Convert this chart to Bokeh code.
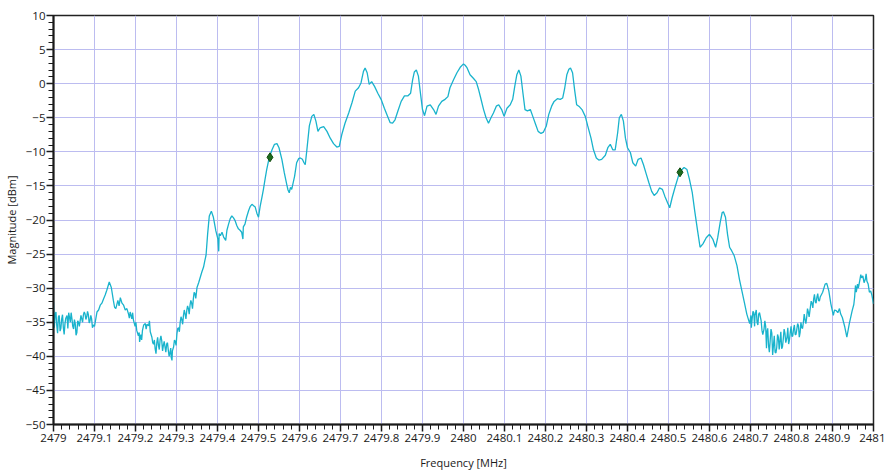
from bokeh.plotting import figure
from bokeh.models import FixedTicker, Range1d, ColumnDataSource
from bokeh.embed import file_html
from bokeh.resources import INLINE

# ---- data ----
freq = [
    2479.000, 2479.004, 2479.008, 2479.012, 2479.016, 2479.020, 2479.024, 2479.028, 2479.033, 2479.037,
    2479.041, 2479.045, 2479.049, 2479.053, 2479.057, 2479.061, 2479.065, 2479.069, 2479.073, 2479.077,
    2479.081, 2479.085, 2479.089, 2479.093, 2479.097, 2479.100, 2479.106, 2479.110, 2479.114, 2479.118,
    2479.122, 2479.126, 2479.130, 2479.136, 2479.141, 2479.146, 2479.149, 2479.152, 2479.157, 2479.163,
    2479.167, 2479.171, 2479.175, 2479.179, 2479.183, 2479.187, 2479.191, 2479.195, 2479.199, 2479.203,
    2479.207, 2479.210, 2479.213, 2479.217, 2479.220, 2479.224, 2479.228, 2479.232, 2479.236, 2479.240,
    2479.244, 2479.248, 2479.252, 2479.256, 2479.260, 2479.264, 2479.268, 2479.272, 2479.276, 2479.280,
    2479.284, 2479.287, 2479.290, 2479.293, 2479.297, 2479.301, 2479.305, 2479.309, 2479.313, 2479.317,
    2479.321, 2479.325, 2479.329, 2479.333, 2479.337, 2479.341, 2479.345, 2479.350, 2479.354, 2479.358,
    2479.362, 2479.366, 2479.369, 2479.372, 2479.376, 2479.380, 2479.385, 2479.390, 2479.396, 2479.401,
    2479.404, 2479.407, 2479.411, 2479.415, 2479.420, 2479.423, 2479.427, 2479.431, 2479.435, 2479.439,
    2479.443, 2479.447, 2479.451, 2479.455, 2479.459, 2479.463, 2479.467, 2479.471, 2479.476, 2479.480,
    2479.484, 2479.488, 2479.492, 2479.496, 2479.500,
    2479.504, 2479.508, 2479.512, 2479.516, 2479.520, 2479.526, 2479.533, 2479.539, 2479.545, 2479.550,
    2479.557, 2479.563, 2479.569, 2479.572, 2479.575, 2479.578, 2479.581, 2479.588, 2479.593, 2479.598,
    2479.602, 2479.607, 2479.611, 2479.614, 2479.618, 2479.624, 2479.630, 2479.635, 2479.640, 2479.645,
    2479.650, 2479.659, 2479.667, 2479.675, 2479.683, 2479.691, 2479.697, 2479.703, 2479.711, 2479.720,
    2479.728, 2479.736, 2479.744, 2479.750, 2479.756, 2479.760, 2479.765, 2479.770, 2479.776, 2479.783,
    2479.791, 2479.799, 2479.807, 2479.815, 2479.821, 2479.827, 2479.833, 2479.840, 2479.848, 2479.856,
    2479.864, 2479.871, 2479.876, 2479.880, 2479.885, 2479.890, 2479.895, 2479.900, 2479.905, 2479.911,
    2479.919, 2479.927, 2479.933, 2479.939, 2479.947, 2479.955, 2479.962, 2479.967, 2479.976, 2479.984,
    2479.992, 2480.000,
    2480.004, 2480.008, 2480.016, 2480.024, 2480.031, 2480.037, 2480.042, 2480.049, 2480.055, 2480.061,
    2480.067, 2480.073, 2480.080, 2480.086, 2480.093, 2480.099, 2480.106, 2480.114, 2480.120, 2480.125,
    2480.130, 2480.135, 2480.140, 2480.145, 2480.150, 2480.156, 2480.163, 2480.169, 2480.176, 2480.182,
    2480.189, 2480.195, 2480.202, 2480.208, 2480.215, 2480.221, 2480.229, 2480.236, 2480.242, 2480.247,
    2480.252, 2480.257, 2480.261, 2480.266, 2480.271, 2480.276, 2480.283, 2480.289, 2480.297, 2480.303,
    2480.311, 2480.317, 2480.324, 2480.330, 2480.337, 2480.346, 2480.352, 2480.358, 2480.364, 2480.370,
    2480.376, 2480.380, 2480.385, 2480.390, 2480.395, 2480.400, 2480.407, 2480.413, 2480.420, 2480.426,
    2480.433, 2480.439, 2480.446, 2480.452, 2480.459, 2480.465, 2480.472, 2480.478, 2480.485, 2480.491,
    2480.498, 2480.503,
    2480.509, 2480.516, 2480.522, 2480.527, 2480.533, 2480.538, 2480.545, 2480.551, 2480.558, 2480.564,
    2480.571, 2480.577, 2480.584, 2480.592, 2480.600, 2480.608, 2480.615, 2480.620, 2480.626, 2480.631,
    2480.634, 2480.639, 2480.644, 2480.649, 2480.654, 2480.660, 2480.667, 2480.673, 2480.679, 2480.685,
    2480.691, 2480.698, 2480.701, 2480.704, 2480.708, 2480.711, 2480.716, 2480.720, 2480.726, 2480.730,
    2480.733, 2480.737, 2480.740, 2480.744, 2480.748, 2480.752, 2480.756, 2480.760, 2480.764, 2480.768,
    2480.772, 2480.776, 2480.780, 2480.784, 2480.789, 2480.793, 2480.797, 2480.801, 2480.805, 2480.809,
    2480.813, 2480.817, 2480.821, 2480.825, 2480.829, 2480.833, 2480.837, 2480.841, 2480.846, 2480.850,
    2480.854, 2480.858, 2480.862, 2480.866, 2480.870, 2480.876, 2480.882, 2480.886, 2480.891, 2480.896,
    2480.902, 2480.905, 2480.909, 2480.913, 2480.917, 2480.920, 2480.924, 2480.930, 2480.935, 2480.941,
    2480.948, 2480.954, 2480.958, 2480.961, 2480.967, 2480.971, 2480.974, 2480.980, 2480.984, 2480.987,
    2480.993, 2481.000,
]

magnitude = [
    -32.0, -33.8, -35.5, -34.2, -36.3, -34.5, -35.8, -35.2, -34.0, -33.6,
    -35.0, -34.5, -36.0, -35.2, -36.5, -35.0, -34.8, -34.5, -33.9, -33.8,
    -34.2, -33.9, -34.8, -34.5, -35.4, -35.6, -33.5, -33.2, -32.5, -32.2,
    -31.6, -31.0, -30.3, -29.1, -29.9, -31.8, -32.8, -33.0, -31.8, -31.4,
    -32.2, -32.5, -33.2, -33.0, -33.8, -33.5, -34.5, -34.7, -35.6, -36.2,
    -37.0, -37.9, -36.8, -36.2, -35.4, -35.2, -35.3, -35.5, -36.4, -37.2,
    -38.2, -38.9, -38.0, -38.4, -37.6, -37.7, -38.4, -38.6, -38.2, -39.1,
    -39.5, -40.1, -39.2, -38.6, -37.8, -36.7, -35.8, -35.0, -34.6, -34.0,
    -33.8, -33.3, -33.0, -32.5, -32.2, -31.6, -30.8, -29.9, -29.2, -28.4,
    -27.6, -26.9, -26.0, -25.2, -22.0, -19.4, -18.7, -19.6, -21.6, -22.8,
    -22.0, -22.3, -21.8, -22.5, -23.0, -21.5, -20.6, -19.8, -19.4, -19.7,
    -20.1, -20.8, -21.3, -21.5, -21.8, -21.0, -20.6, -19.6, -18.6, -18.0,
    -17.7, -17.9, -18.1, -19.0, -19.6,
    -18.0, -16.8, -15.5, -14.0, -12.6, -10.9, -9.7, -8.9, -8.8, -9.4,
    -11.1, -13.1, -14.8, -15.6, -16.0, -15.2, -15.5, -13.6, -11.6, -11.0,
    -10.9, -11.1, -11.6, -11.9, -9.7, -6.2, -4.8, -4.5, -5.5, -7.0,
    -6.5, -6.3, -7.0, -8.0, -8.8, -9.3, -9.2, -7.5, -5.8, -4.3,
    -2.8, -1.1, -0.6, 0.1, 1.8, 2.3, 1.6, -0.1, 0.3, -0.4,
    -1.4, -2.3, -3.6, -4.8, -5.7, -5.8, -5.3, -4.0, -2.6, -1.8,
    -1.8, -1.4, 0.6, 1.7, 2.0, 1.1, -1.4, -3.8, -4.7, -3.3,
    -3.1, -3.8, -4.5, -3.3, -2.6, -2.3, -1.9, -0.6, 0.6, 1.6,
    2.4, 2.9,
    2.7, 2.4, 1.3, 0.8, 0.3, -0.9, -2.1, -3.8, -5.0, -5.8,
    -5.0, -4.3, -3.3, -3.1, -3.8, -4.8, -3.6, -3.1, -2.3, -0.4,
    1.3, 2.0, 1.1, -1.4, -3.8, -4.0, -3.8, -4.8, -6.0, -7.0,
    -7.3, -7.1, -6.2, -4.5, -3.3, -2.6, -2.2, -2.3, -2.1, -0.6,
    1.3, 2.1, 2.3, 1.6, -0.9, -3.1, -3.4, -3.8, -4.8, -6.2,
    -8.0, -9.7, -10.9, -11.2, -11.1, -10.5, -9.4, -8.9, -9.7, -9.7,
    -7.2, -5.0, -4.5, -5.5, -8.0, -9.4, -10.1, -11.6, -12.1, -11.1,
    -10.9, -11.9, -13.3, -14.5, -15.8, -16.4, -16.0, -15.3, -15.5, -16.5,
    -17.5, -18.2,
    -16.7, -15.2, -14.0, -13.0, -12.6, -12.3, -12.6, -14.0, -16.0, -18.7,
    -21.6, -24.0, -23.5, -22.6, -22.1, -22.8, -24.0, -22.6, -20.4, -18.9,
    -18.8, -19.6, -22.1, -24.0, -24.5, -25.2, -26.7, -28.7, -30.4, -32.1,
    -33.8, -35.2, -34.0, -34.5, -33.6, -34.0, -35.0, -33.8, -34.8, -36.8,
    -36.0, -35.6, -36.5, -38.4, -37.7, -36.6, -38.4, -39.4, -38.7, -37.2,
    -37.7, -38.9, -37.4, -36.6, -37.2, -38.2, -36.5, -37.1, -36.0, -36.8,
    -36.0, -35.5, -36.5, -35.8, -35.0, -34.6, -34.3, -33.5, -32.8, -32.2,
    -31.6, -32.0, -31.3, -31.8, -31.3, -30.6, -29.4, -29.3, -30.4, -32.3,
    -34.0, -33.2, -33.3, -33.6, -33.0, -33.8, -34.3, -35.7, -37.2, -35.2,
    -33.3, -31.3, -30.6, -29.4, -28.7, -28.5, -28.2, -28.7, -29.0, -29.4,
    -30.4, -32.3,
]

# extra samples read in the noisy stretches of the trace
noise_freq = [
    2479.002, 2479.006, 2479.010, 2479.014, 2479.018, 2479.022, 2479.026, 2479.030, 2479.035, 2479.039,
    2479.043, 2479.047, 2479.051, 2479.055, 2479.059, 2479.063, 2479.067, 2479.071, 2479.075, 2479.079,
    2479.083, 2479.087, 2479.091, 2479.095,
    2479.160, 2479.185, 2479.193, 2479.201, 2479.209, 2479.215, 2479.226, 2479.234, 2479.242, 2479.246,
    2479.250, 2479.254, 2479.258, 2479.262, 2479.266, 2479.270, 2479.274, 2479.278, 2479.282, 2479.286,
    2479.289, 2479.295, 2479.299, 2479.303, 2479.307, 2479.311, 2479.315, 2479.319, 2479.323, 2479.327,
    2479.331, 2479.335, 2479.339, 2479.343, 2479.347,
    2479.403, 2479.462,
    2480.702, 2480.706, 2480.710, 2480.714, 2480.718, 2480.722, 2480.728, 2480.735, 2480.739, 2480.742,
    2480.746, 2480.750, 2480.754, 2480.758, 2480.762, 2480.766, 2480.770, 2480.774, 2480.778, 2480.782,
    2480.786, 2480.791, 2480.795, 2480.799, 2480.803, 2480.807, 2480.811, 2480.815, 2480.819, 2480.823,
    2480.827, 2480.831, 2480.835, 2480.839, 2480.843, 2480.848, 2480.852, 2480.856, 2480.860, 2480.864,
    2480.868,
    2480.952, 2480.956, 2480.963, 2480.969, 2480.977, 2480.982, 2480.990, 2480.996,
]
noise_mag = [
    -35.8, -33.5, -36.6, -34.0, -35.9, -33.9, -36.8, -34.4, -35.9, -34.3,
    -33.6, -35.6, -34.6, -36.9, -34.8, -35.6, -34.0, -35.0, -33.5, -34.6,
    -33.4, -35.1, -34.0, -35.8,
    -32.6, -34.4, -33.6, -35.0, -36.5, -37.6, -36.0, -34.8, -38.0, -37.6,
    -39.6, -37.2, -39.0, -37.0, -39.2, -37.8, -39.4, -38.0, -40.0, -38.8,
    -40.6, -37.6, -38.4, -35.9, -36.4, -34.2, -35.3, -33.2, -34.5, -32.6,
    -33.8, -31.8, -33.0, -30.6, -31.5,
    -24.6, -22.8,
    -35.8, -33.4, -35.6, -33.2, -35.4, -33.6, -36.2, -34.8, -38.8, -35.9,
    -39.4, -36.0, -39.8, -37.0, -39.5, -36.8, -39.0, -36.4, -38.6, -36.0,
    -38.0, -35.8, -37.6, -35.6, -37.0, -35.4, -36.8, -35.2, -37.2, -35.0,
    -35.9, -33.8, -35.2, -33.0, -34.2, -31.9, -32.9, -30.9, -32.2, -30.8,
    -31.9,
    -32.4, -29.6, -30.0, -28.0, -29.2, -27.9, -30.6, -31.0,
]

marker_freq = [2479.528, 2480.528]
marker_mag = [-10.8, -13.0]

x_ticks = [2479.0, 2479.1, 2479.2, 2479.3, 2479.4, 2479.5, 2479.6, 2479.7, 2479.8, 2479.9,
           2480.0, 2480.1, 2480.2, 2480.3, 2480.4, 2480.5, 2480.6, 2480.7, 2480.8, 2480.9, 2481.0]
x_tick_labels = ["2479", "2479.1", "2479.2", "2479.3", "2479.4", "2479.5", "2479.6", "2479.7",
                 "2479.8", "2479.9", "2480", "2480.1", "2480.2", "2480.3", "2480.4", "2480.5",
                 "2480.6", "2480.7", "2480.8", "2480.9", "2481"]
y_ticks = [-50, -45, -40, -35, -30, -25, -20, -15, -10, -5, 0, 5, 10]

# merge the traced samples in frequency order
pairs = sorted(zip(freq + noise_freq, magnitude + noise_mag))
trace = ColumnDataSource(data=dict(f=[a for a, b in pairs], m=[b for a, b in pairs]))

# ---- figure ----
p = figure(width=885, height=474, output_backend="svg", toolbar_location=None,
           x_range=Range1d(2479, 2481), y_range=Range1d(-50, 10),
           min_border_left=53, min_border_right=12, min_border_top=15, min_border_bottom=50)

p.background_fill_color = "white"
p.border_fill_color = "white"
p.outline_line_color = "#222222"
p.outline_line_width = 1.5

x_minor = [round(2479 + 0.02 * i, 3) for i in range(101)]
y_minor = list(range(-50, 11))
p.xaxis.ticker = FixedTicker(ticks=x_ticks, minor_ticks=x_minor)
p.yaxis.ticker = FixedTicker(ticks=y_ticks, minor_ticks=y_minor)
p.xaxis.major_label_overrides = {t: l for t, l in zip(x_ticks, x_tick_labels)}

for ax in (p.xaxis, p.yaxis):
    ax.axis_line_color = "#1a1a1a"
    ax.axis_line_width = 2
    ax.major_tick_line_color = "#1a1a1a"
    ax.minor_tick_line_color = "#1a1a1a"
    ax.major_tick_line_width = 1.5
    ax.minor_tick_line_width = 1
    ax.major_tick_out = 7
    ax.major_tick_in = 0
    ax.minor_tick_out = 5
    ax.minor_tick_in = 0
    ax.major_label_text_font = "Open Sans"
    ax.major_label_text_font_size = "11.5px"
    ax.major_label_text_color = "#1a1a1a"
    ax.axis_label_text_font = "Open Sans"
    ax.axis_label_text_font_size = "11px"
    ax.axis_label_text_font_style = "normal"
    ax.axis_label_text_color = "#1a1a1a"

p.xaxis.axis_label = "Frequency [MHz]"
p.yaxis.axis_label = "Magnitude [dBm]"
p.xaxis.major_label_standoff = 2
p.xaxis.axis_label_standoff = 10
p.yaxis.major_label_standoff = 1
p.yaxis.axis_label_standoff = 4

p.xgrid.grid_line_color = "#bcbcf0"
p.ygrid.grid_line_color = "#bcbcf0"
p.xgrid.grid_line_width = 1
p.ygrid.grid_line_width = 1

p.line("f", "m", source=trace, line_color="#19b3cc", line_width=1.3)
p.scatter(marker_freq, marker_mag, marker="diamond", size=9,
          fill_color="#1d6b1d", line_color="#0f4a0f", line_width=1)

open("out.html", "w").write(file_html(p, INLINE))
